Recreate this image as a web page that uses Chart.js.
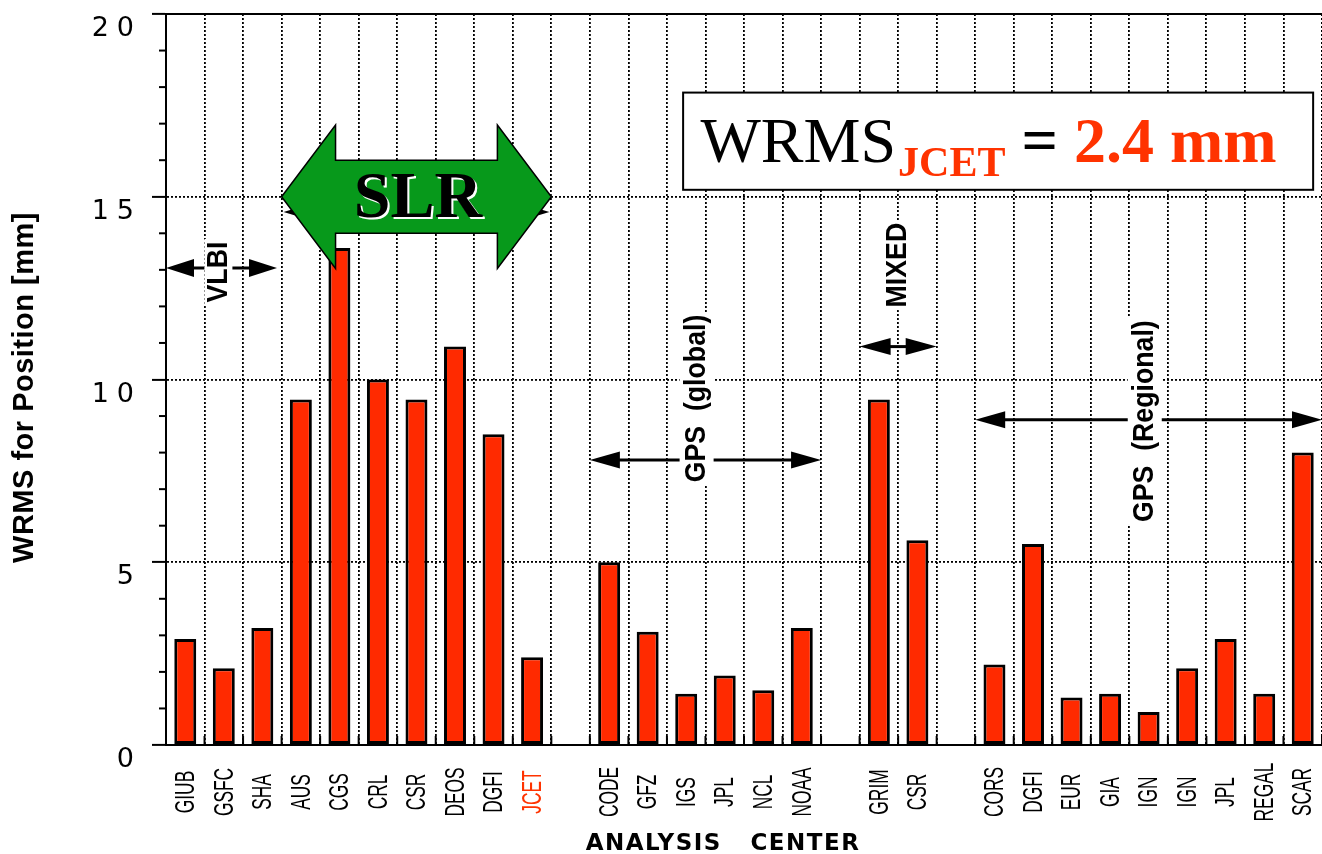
<!DOCTYPE html>
<html>
<head>
<meta charset="utf-8">
<title>WRMS for Position by Analysis Center</title>
<script src="https://cdn.jsdelivr.net/npm/chart.js@4"></script>
<style>
  html, body { margin: 0; padding: 0; background: #fff; }
  #chart-container { width: 1322px; height: 854px; }
</style>
</head>
<body>
<div id="chart-container"><canvas id="myChart" width="1322" height="854"></canvas></div>
<script>
// analysis centers ('' = empty slot between technique groups)
var centers = ['GIUB', 'GSFC', 'SHA', 'AUS', 'CGS', 'CRL', 'CSR', 'DEOS', 'DGFI', 'JCET', '',
               'CODE', 'GFZ', 'IGS', 'JPL', 'NCL', 'NOAA', '',
               'GRIM', 'CSR', '',
               'CORS', 'DGFI', 'EUR', 'GIA', 'IGN', 'IGN', 'JPL', 'REGAL', 'SCAR'];
// WRMS for position [mm]
var wrms = [2.9, 2.1, 3.2, 9.45, 13.6, 10.0, 9.45, 10.9, 8.5, 2.4, null,
            5.0, 3.1, 1.4, 1.9, 1.5, 3.2, null,
            9.45, 5.6, null,
            2.2, 5.5, 1.3, 1.4, 0.9, 2.1, 2.9, 1.4, 8.0];
var yMajorTicks = [0, 5, 10, 15, 20];
var highlight = 'JCET';
var highlightValue = '2.4 mm';

var RED = '#ff3300';
var BAR = '#ff2a00';

function vText(ctx, text, x, y, font, squeeze, color, bgHalf) {
    ctx.save();
    ctx.translate(x, y);
    ctx.rotate(-Math.PI / 2);
    ctx.scale(squeeze, 1);
    ctx.font = font;
    var w = ctx.measureText(text).width;
    if (bgHalf) {
        ctx.fillStyle = '#fff';
        ctx.fillRect(-w / 2 - 3, -bgHalf, w + 6, bgHalf * 2);
    }
    ctx.fillStyle = color;
    ctx.textAlign = 'center';
    ctx.textBaseline = 'middle';
    ctx.fillText(text, 0, 0);
    ctx.restore();
}

function dblArrow(ctx, x1, x2, y, headLen, headHalf) {
    ctx.save();
    ctx.strokeStyle = '#000';
    ctx.fillStyle = '#000';
    ctx.lineWidth = 3;
    ctx.beginPath();
    ctx.moveTo(x1 + headLen - 2, y);
    ctx.lineTo(x2 - headLen + 2, y);
    ctx.stroke();
    ctx.beginPath();
    ctx.moveTo(x1, y); ctx.lineTo(x1 + headLen, y - headHalf); ctx.lineTo(x1 + headLen, y + headHalf); ctx.closePath();
    ctx.fill();
    ctx.beginPath();
    ctx.moveTo(x2, y); ctx.lineTo(x2 - headLen, y - headHalf); ctx.lineTo(x2 - headLen, y + headHalf); ctx.closePath();
    ctx.fill();
    ctx.restore();
}

// wraps a scale draw step to tweak canvas state (letter spacing / shift)
function wrap(obj, name, spacing, dx, dy) {
    if (obj['_w_' + name]) return;
    var orig = obj[name];
    obj[name] = function () {
        var c = this.ctx;
        c.save();
        c.letterSpacing = spacing;
        c.translate(dx, dy);
        orig.apply(this, arguments);
        c.restore();
    };
    obj['_w_' + name] = true;
}

var decor = {
    id: 'decor',
    beforeDraw: function (chart) {
        wrap(chart.scales.y, 'drawLabels', '8px', 0, 15);
        wrap(chart.scales.y, 'drawTitle', '0.5px', 0, 8);
        wrap(chart.scales.x, 'drawTitle', '1.5px', -21, 0);
    },
    afterDatasetsDraw: function (chart) {
        var ctx = chart.ctx, x = chart.scales.x, y = chart.scales.y, a = chart.chartArea;
        ctx.save();
        ctx.strokeStyle = '#000';
        ctx.lineWidth = 2;
        // top frame
        ctx.beginPath();
        ctx.moveTo(a.left, y.getPixelForValue(20));
        ctx.lineTo(a.right, y.getPixelForValue(20));
        ctx.stroke();
        // minor y ticks
        for (var v = 1; v < 20; v++) {
            if (yMajorTicks.indexOf(v) >= 0) continue;
            var py = y.getPixelForValue(v);
            ctx.beginPath();
            ctx.moveTo(a.left - 7, py);
            ctx.lineTo(a.left, py);
            ctx.stroke();
        }
        // short ticks on the category boundaries
        for (var i = 0; i <= centers.length; i++) {
            var bx = x.getPixelForValue(i - 0.5);
            ctx.beginPath();
            ctx.moveTo(bx, a.bottom);
            ctx.lineTo(bx, a.bottom - 9);
            ctx.stroke();
        }
        ctx.restore();
        // category labels
        for (var j = 0; j < centers.length; j++) {
            if (!centers[j]) continue;
            vText(ctx, centers[j], x.getPixelForValue(j) + 1, a.bottom + 47, '28px "Liberation Sans"', 0.62,
                  centers[j] === highlight && j === 9 ? RED : '#000', 0);
        }
    },
    afterDraw: function (chart) {
        var ctx = chart.ctx, x = chart.scales.x, y = chart.scales.y;
        var X = function (v) { return x.getPixelForValue(v); };
        var Y = function (v) { return y.getPixelForValue(v); };
        var lab = 'bold 30px "Liberation Sans"';

        // VLBI
        dblArrow(ctx, X(-0.5), X(2.38), Y(13.05), 28, 9);
        vText(ctx, 'VLBI', X(0.86), Y(12.94), lab, 0.89, '#000', 14);

        // SLR: black arrow partly hidden behind the big green one
        dblArrow(ctx, X(2.55), X(9.45), Y(14.58), 30, 9);
        ctx.save();
        ctx.beginPath();
        ctx.moveTo(X(2.5), Y(15));
        ctx.lineTo(X(3.9), Y(16.96));
        ctx.lineTo(X(3.9), Y(16.0));
        ctx.lineTo(X(8.1), Y(16.0));
        ctx.lineTo(X(8.1), Y(16.96));
        ctx.lineTo(X(9.5), Y(15));
        ctx.lineTo(X(8.1), Y(13.04));
        ctx.lineTo(X(8.1), Y(14.0));
        ctx.lineTo(X(3.9), Y(14.0));
        ctx.lineTo(X(3.9), Y(13.04));
        ctx.closePath();
        ctx.fillStyle = '#07991b';
        ctx.fill();
        ctx.lineWidth = 1.5;
        ctx.strokeStyle = '#000';
        ctx.stroke();
        ctx.font = 'bold 66px "Liberation Serif"';
        ctx.textAlign = 'center';
        ctx.textBaseline = 'alphabetic';
        ctx.fillStyle = '#fff';
        ctx.fillText('SLR', X(6.04) + 2, Y(14.45) + 2);
        ctx.fillStyle = '#000';
        ctx.fillText('SLR', X(6.04), Y(14.45));
        ctx.restore();

        // GPS (global)
        dblArrow(ctx, X(10.5), X(16.5), Y(7.8), 30, 8.5);
        vText(ctx, 'GPS  (global)', X(13.27), Y(9.48), lab, 0.89, '#000', 17);

        // MIXED
        dblArrow(ctx, X(17.5), X(19.5), Y(10.9), 31, 8.5);
        vText(ctx, 'MIXED', X(18.5), Y(13.13), lab, 0.89, '#000', 15);

        // GPS (Regional)
        dblArrow(ctx, X(20.5), X(29.5), Y(8.9), 30, 8.5);
        vText(ctx, 'GPS  (Regional)', X(24.9), Y(8.86), lab, 0.89, '#000', 17);

        // WRMS box
        ctx.save();
        var bx1 = X(12.92), bx2 = X(29.27), by1 = Y(17.85), by2 = Y(15.19);
        ctx.fillStyle = '#fff';
        ctx.fillRect(bx1, by1, bx2 - bx1, by2 - by1);
        ctx.lineWidth = 2;
        ctx.strokeStyle = '#000';
        ctx.strokeRect(bx1, by1, bx2 - bx1, by2 - by1);
        var tx = X(13.37), base = Y(15.95);
        ctx.textAlign = 'left';
        ctx.textBaseline = 'alphabetic';
        ctx.font = '64px "Liberation Serif"';
        ctx.fillStyle = '#000';
        ctx.fillText('WRMS', tx, base);
        tx += ctx.measureText('WRMS').width + 2;
        ctx.font = 'bold 42px "Liberation Serif"';
        ctx.fillStyle = RED;
        ctx.fillText(highlight, tx, base + 14);
        tx += ctx.measureText(highlight).width;
        ctx.font = 'bold 64px "Liberation Serif"';
        ctx.fillStyle = '#000';
        ctx.fillText(' = ', tx, base);
        tx += ctx.measureText(' = ').width;
        ctx.fillStyle = RED;
        ctx.fillText(highlightValue, tx, base);
        ctx.restore();
    }
};

var ctx = document.getElementById('myChart');
var myChart = new Chart(ctx, {
    type: 'bar',
    data: {
        labels: centers,
        datasets: [{
            label: 'WRMS for Position [mm]',
            data: wrms,
            backgroundColor: BAR,
            borderColor: '#000',
            borderWidth: 3,
            borderSkipped: false,
            barPercentage: 0.57,
            categoryPercentage: 1.0
        }]
    },
    options: {
        responsive: false,
        animation: false,
        devicePixelRatio: 1,
        layout: { padding: { top: 14, left: 0, right: 0, bottom: 0 } },
        plugins: { legend: { display: false }, tooltip: { enabled: false } },
        scales: {
            x: {
                offset: true,
                grid: { display: true, offset: true, color: '#000', lineWidth: 1.8, drawTicks: false },
                border: { display: true, color: '#000', width: 2, dash: [2, 2] },
                ticks: { display: false, autoSkip: false },
                title: {
                    display: true,
                    text: 'ANALYSIS   CENTER',
                    color: '#000',
                    font: { family: 'DejaVu Sans', size: 23, weight: 'bold', lineHeight: 1 },
                    padding: { top: 0, bottom: -2 }
                },
                afterFit: function (scale) {
                    scale.height = 109;
                    scale.paddingLeft = 0;
                    scale.paddingRight = 0;
                }
            },
            y: {
                min: 0,
                max: 20,
                ticks: {
                    stepSize: 1,
                    autoSkip: false,
                    color: '#000',
                    padding: 10,
                    font: { family: 'DejaVu Sans', size: 27 },
                    callback: function (v) { return yMajorTicks.indexOf(v) >= 0 ? String(v) : ''; }
                },
                grid: {
                    color: function (c) { return [5, 10, 15].indexOf(c.tick.value) >= 0 ? '#000' : 'rgba(0,0,0,0)'; },
                    lineWidth: 1.8,
                    drawTicks: true,
                    tickLength: 14,
                    tickWidth: 2,
                    tickColor: function (c) { return yMajorTicks.indexOf(c.tick.value) >= 0 ? '#000' : 'rgba(0,0,0,0)'; }
                },
                border: { display: true, color: '#000', width: 2, dash: [2, 2] },
                title: {
                    display: true,
                    text: 'WRMS for Position [mm]',
                    color: '#000',
                    font: { family: 'Liberation Sans', size: 29, weight: 'bold', lineHeight: 1 },
                    padding: { top: 10, bottom: 0 }
                },
                afterFit: function (scale) {
                    scale.width = 166;
                    scale.paddingTop = 0;
                    scale.paddingBottom = 0;
                }
            }
        }
    },
    plugins: [decor]
});
</script>
</body>
</html>
